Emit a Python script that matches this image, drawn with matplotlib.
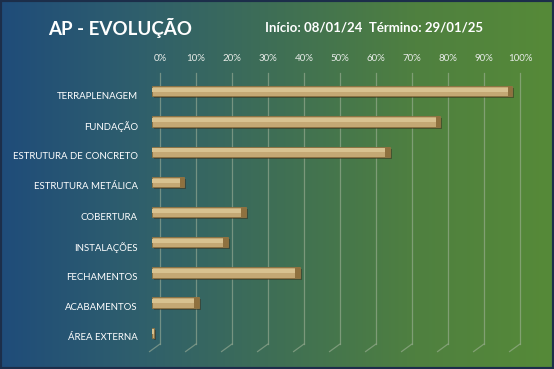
import matplotlib
matplotlib.use("Agg")
import matplotlib.pyplot as plt
import matplotlib.transforms as mtransforms
import numpy as np
from matplotlib.colors import LinearSegmentedColormap

# -----------------------------
# Data
# -----------------------------
stages = [
    "TERRAPLENAGEM", "FUNDAÇÃO", "ESTRUTURA DE CONCRETO", "ESTRUTURA METÁLICA",
    "COBERTURA", "INSTALAÇÕES", "FECHAMENTOS", "ACABAMENTOS", "ÁREA EXTERNA",
]
progress = [100, 80, 66, 9, 26, 21, 41, 13, 0.6]
pct_ticks = [0, 10, 20, 30, 40, 50, 60, 70, 80, 90, 100]

title = "AP - EVOLUÇÃO"
dates = "Início: 08/01/24  Término: 29/01/25"

plt.rcParams["font.family"] = ["Lato", "DejaVu Sans"]

W, H = 554, 369
fig = plt.figure(figsize=(W / 100, H / 100), dpi=100)

# -----------------------------
# Gradient background
# -----------------------------
bg = fig.add_axes([0, 0, 1, 1], zorder=0)
grad_cmap = LinearSegmentedColormap.from_list(
    "bg", ["#1f4c7a", "#2f5f6c", "#3f6f55", "#4f8040", "#568a38"])
bg.imshow(np.linspace(0, 1, 256)[None, :], cmap=grad_cmap, aspect="auto",
          extent=[0, 1, 0, 1])
bg.set_xlim(0, 1)
bg.set_ylim(0, 1)
bg.axis("off")
bg.add_patch(plt.Rectangle((0, 0), 1, 1, fill=False, edgecolor="#1c2e4a",
                           linewidth=3, transform=bg.transAxes))

# -----------------------------
# Main axes
# -----------------------------
ax = fig.add_axes([160 / W, 1 - 344 / H, 360 / W, 271 / H], zorder=1)
ax.patch.set_alpha(0)
y = np.arange(len(stages))
ax.set_xlim(0, 100)
ax.set_ylim(8.24, -0.74)

# gridlines (back wall) with floor diagonals
grid_c = "#a9b8a0"
for t in pct_ticks:
    ax.plot([t, t], [8.24, -0.74], color=grid_c, lw=0.9, alpha=0.55, zorder=1,
            clip_on=False)
    ax.annotate("", xy=(t, 8.24), xycoords="data",
                xytext=(-10.6, -7.7), textcoords="offset pixels",
                arrowprops=dict(arrowstyle="-", color=grid_c, lw=0.9, alpha=0.55,
                                shrinkA=0, shrinkB=0))


def shifted(bars, dx, dy):
    tr = mtransforms.offset_copy(ax.transData, fig=fig, x=dx, y=dy, units="dots")
    for b in bars:
        b.set_transform(tr)
        b.set_clip_on(False)


# 3D-ish bars: shadow, body, highlight, end cap
bh = 0.34
cap = [1.2 if p > 1 else 0 for p in progress]
shifted(ax.barh(y, progress, height=bh, color="#3a2e1c", alpha=0.5, zorder=2), -6, 2)
shifted(ax.barh(y, progress, height=bh, color="#c4a874", edgecolor="#8c7040",
                linewidth=0.6, zorder=3), -8, 4)
shifted(ax.barh(y, progress, height=bh * 0.4, color="#d8c290", zorder=4), -8, 5.3)
shifted(ax.barh(y, cap, left=[p - c for p, c in zip(progress, cap)], height=bh,
                color="#8f713f", zorder=4), -8, 4)

# ticks & labels
ax.set_yticks(y)
ax.set_yticklabels(stages, fontsize=6.9, color="white")
ax.tick_params(axis="y", length=0, pad=16)
ax.xaxis.tick_top()
ax.set_xticks(pct_ticks)
ax.set_xticklabels([f"{t}%" for t in pct_ticks], fontsize=7, color="#e8ece8")
ax.tick_params(axis="x", length=0, pad=7)
for s in ax.spines.values():
    s.set_visible(False)

# -----------------------------
# Titles
# -----------------------------
fig.text(48 / W, 1 - 28 / H, title, fontsize=13.5, fontweight="bold",
         color="white", ha="left", va="center")
fig.text(265 / W, 1 - 28 / H, dates, fontsize=9.5, fontweight="bold",
         color="white", ha="left", va="center")

fig.savefig("out.png", dpi=100)
